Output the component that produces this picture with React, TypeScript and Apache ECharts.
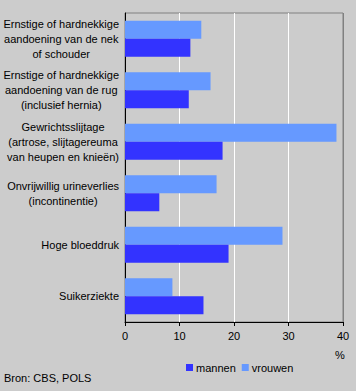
import React, { useEffect, useRef } from "react";
import * as echarts from "echarts";

const categories = [
  "Ernstige of hardnekkige\naandoening van de nek\nof schouder",
  "Ernstige of hardnekkige\naandoening van de rug\n(inclusief hernia)",
  "Gewrichtsslijtage\n(artrose, slijtagereuma\nvan heupen en knieën)",
  "Onvrijwillig urineverlies\n(incontinentie)",
  "Hoge bloeddruk",
  "Suikerziekte",
];
const mannen = [12.0, 11.7, 17.9, 6.3, 19.0, 14.4];
const vrouwen = [14.0, 15.7, 38.8, 16.8, 28.9, 8.7];
const xTicks = { min: 0, max: 40, interval: 10 };

const FONT = "Liberation Sans";

export default function App() {
  const ref = useRef<HTMLDivElement>(null);
  useEffect(() => {
    const chart = echarts.init(ref.current!, null, { renderer: "svg" });
    chart.setOption({
      animation: false,
      backgroundColor: "#CCCCCC",
      textStyle: { fontFamily: FONT, fontSize: 11, color: "#000" },
      grid: {
        left: 125,
        top: 13,
        width: 218,
        height: 309,
        show: true,
        backgroundColor: "#CCCCCC",
        borderColor: "#808080",
        borderWidth: 1,
      },
      legend: {
        data: ["mannen", "vrouwen"],
        left: 181,
        top: 357,
        itemWidth: 7,
        itemHeight: 7,
        itemGap: 6,
        icon: "rect",
        textStyle: { fontFamily: FONT, fontSize: 11, color: "#000", padding: [0, 0, 0, -2] },
      },
      xAxis: {
        type: "value",
        min: xTicks.min,
        max: xTicks.max,
        interval: xTicks.interval,
        axisLine: { show: true, lineStyle: { color: "#000", width: 1 } },
        axisTick: { show: true, length: 4, lineStyle: { color: "#000" } },
        axisLabel: { fontFamily: FONT, fontSize: 11, color: "#000", margin: 8 },
        splitLine: {
          show: true,
          lineStyle: { color: ["#CCCCCC", "#FFFFFF", "#FFFFFF", "#FFFFFF", "#808080"], width: 1 },
        },
      },
      yAxis: {
        type: "category",
        data: categories,
        inverse: true,
        axisLine: { show: true, lineStyle: { color: "#000", width: 1 } },
        axisTick: { show: false },
        axisLabel: {
          fontFamily: FONT,
          fontSize: 11,
          color: "#000",
          margin: 6,
          align: "right",
          lineHeight: 15,
          formatter: (v: string) => {
            const lines = v.split("\n");
            if (lines.length === 1) return v;
            return lines.map((l) => `{c|${l}}`).join("\n");
          },
          rich: {
            c: { align: "center", fontFamily: FONT, fontSize: 11, color: "#000", lineHeight: 15 },
          },
        },
      },
      series: [
        {
          name: "vrouwen",
          type: "bar",
          data: vrouwen,
          barWidth: 18,
          barGap: "0%",
          itemStyle: { color: "#6699FF" },
        },
        {
          name: "mannen",
          type: "bar",
          data: mannen,
          barWidth: 18,
          barGap: "0%",
          itemStyle: { color: "#3333FF" },
        },
      ],
      graphic: [
        {
          type: "text",
          left: 335,
          top: 349,
          style: { text: "%", fontFamily: FONT, fontSize: 11, fill: "#000" },
        },
        {
          type: "text",
          left: 4,
          top: 372,
          style: { text: "Bron: CBS, POLS", fontFamily: FONT, fontSize: 11, fill: "#000" },
        },
      ],
    });
    return () => chart.dispose();
  }, []);
  return (
    <div style={{ position: "absolute", left: 0, top: 0 }}>
      <div ref={ref} style={{ width: 356, height: 391 }} />
    </div>
  );
}
